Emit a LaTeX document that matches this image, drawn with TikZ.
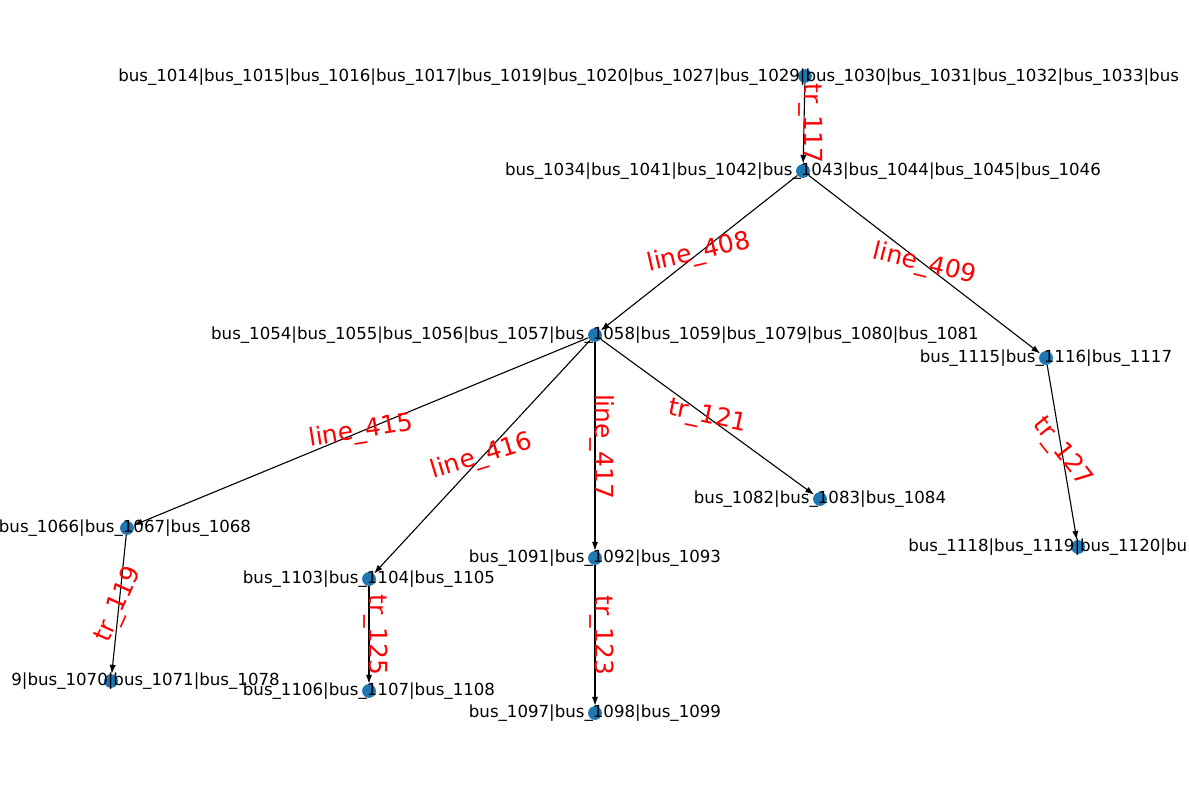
\documentclass[tikz,border=0pt]{standalone}
\usepackage{fontspec}
\setmainfont{DejaVu Sans}
\usetikzlibrary{arrows.meta}
\definecolor{busblue}{HTML}{1F77B4}

\begin{document}
\begin{tikzpicture}[x=0.01in, y=-0.01in,
    bus/.style={circle, fill=busblue, inner sep=0pt, minimum size=10pt},
    busname/.style={font=\fontsize{12}{14}\selectfont, inner sep=0pt},
    edge/.style={-{Latex[length=6.5pt,width=4.5pt]}, line width=0.8pt},
    elabel/.style={font=\fontsize{18}{20}\selectfont, text=red, inner sep=0pt, pos=0.5},
    vlabel/.style={elabel, anchor=base, rotate=-90}]
    \useasboundingbox (0,0) rectangle (1189,790);
    \clip (0,0) rectangle (1189,790);
    % buses
    \node[bus] (b1014) at (805,76) {};
    \node[bus] (b1034) at (803,171) {};
    \node[bus] (b1054) at (595,335) {};
    \node[bus] (b1115) at (1046,358) {};
    \node[bus] (b1066) at (127,528) {};
    \node[bus] (b1103) at (369,579) {};
    \node[bus] (b1091) at (595,558) {};
    \node[bus] (b1082) at (820,499) {};
    \node[bus] (b1118) at (1078,547) {};
    \node[bus] (b1069) at (111,681) {};
    \node[bus] (b1106) at (369,691) {};
    \node[bus] (b1097) at (595,713) {};
    % connections
    \draw[edge] (b1014) -- node[vlabel] {tr\_117} (b1034);
    \draw[edge] (b1034) -- node[elabel, rotate=13] {line\_408} (b1054);
    \draw[edge] (b1034) -- node[elabel, rotate=-14] {line\_409} (b1115);
    \draw[edge] (b1054) -- node[elabel, rotate=9] {line\_415} (b1066);
    \draw[edge] (b1054) -- node[elabel, rotate=17] {line\_416} (b1103);
    \draw[edge] (b1054) -- node[vlabel] {line\_417} (b1091);
    \draw[edge] (b1054) -- node[elabel, rotate=-12] {tr\_121} (b1082);
    \draw[edge] (b1115) -- node[elabel, rotate=-52] {tr\_127} (b1118);
    \draw[edge] (b1066) -- node[elabel, rotate=66] {tr\_119} (b1069);
    \draw[edge] (b1103) -- node[vlabel] {tr\_125} (b1106);
    \draw[edge] (b1091) -- node[vlabel] {tr\_123} (b1097);
    % names
    \node[busname, anchor=west] (n1014) at (118,77) {bus\_1014|bus\_1015|bus\_1016|bus\_1017|bus\_1019|bus\_1020|bus\_1027|bus\_1029|bus\_1030|bus\_1031|bus\_1032|bus\_1033|bus};
    \node[busname] (n1034) at (b1034) {bus\_1034|bus\_1041|bus\_1042|bus\_1043|bus\_1044|bus\_1045|bus\_1046};
    \node[busname] (n1054) at (b1054) {bus\_1054|bus\_1055|bus\_1056|bus\_1057|bus\_1058|bus\_1059|bus\_1079|bus\_1080|bus\_1081};
    \node[busname] (n1115) at (b1115) {bus\_1115|bus\_1116|bus\_1117};
    \node[busname] (n1066) at (125,528) {bus\_1066|bus\_1067|bus\_1068};
    \node[busname] (n1103) at (b1103) {bus\_1103|bus\_1104|bus\_1105};
    \node[busname] (n1091) at (b1091) {bus\_1091|bus\_1092|bus\_1093};
    \node[busname] (n1082) at (b1082) {bus\_1082|bus\_1083|bus\_1084};
    \node[busname, anchor=west] (n1118) at (908,547) {bus\_1118|bus\_1119|bus\_1120|bu};
    \node[busname, anchor=east] (n1069) at (280,681) {9|bus\_1070|bus\_1071|bus\_1078};
    \node[busname] (n1106) at (b1106) {bus\_1106|bus\_1107|bus\_1108};
    \node[busname] (n1097) at (b1097) {bus\_1097|bus\_1098|bus\_1099};
\end{tikzpicture}
\end{document}
